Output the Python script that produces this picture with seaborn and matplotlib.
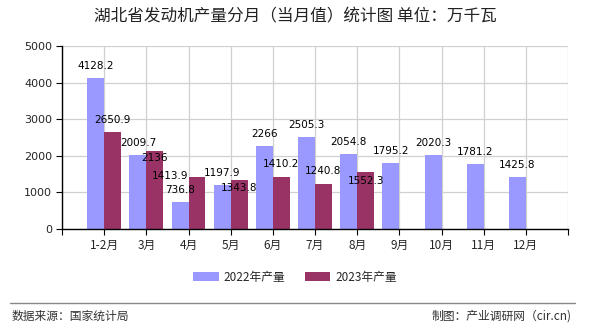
import numpy as np
import pandas as pd
import matplotlib
matplotlib.use("Agg")
import matplotlib.pyplot as plt
import seaborn as sns
from matplotlib.lines import Line2D
from matplotlib.patches import Patch

months = ["1-2月", "3月", "4月", "5月", "6月", "7月", "8月", "9月", "10月", "11月", "12月"]
v2022 = [4128.2, 2009.7, 736.8, 1197.9, 2266, 2505.3, 2054.8, 1795.2, 2020.3, 1781.2, 1425.8]
v2023 = [2650.9, 2136, 1413.9, 1343.8, 1410.2, 1240.8, 1552.3, np.nan, np.nan, np.nan, np.nan]
series = ["2022年产量", "2023年产量"]
colors = ["#9999FF", "#993366"]
yticks = [0, 1000, 2000, 3000, 4000, 5000]
title = "湖北省发动机产量分月（当月值）统计图 单位：万千瓦"
source = "数据来源：国家统计局"
maker = "制图：产业调研网（cir.cn)"

df = pd.DataFrame({
    "month": months * 2,
    "value": v2022 + v2023,
    "series": [series[0]] * len(months) + [series[1]] * len(months),
})

sns.set_theme(style="white")
plt.rcParams["font.family"] = ["Noto Sans CJK SC", "DejaVu Sans"]

fig = plt.figure(figsize=(5.9, 3.3), dpi=100)
W, H = 590, 330
ax = fig.add_axes([62 / W, (H - 229) / H, (568 - 62) / W, (229 - 46) / H])

sns.barplot(data=df, x="month", y="value", hue="series", order=months,
            hue_order=series, palette=colors, width=0.8, saturation=1,
            ax=ax, legend=False, errorbar=None, linewidth=0, edgecolor="none")

ax.set_xlim(-1, len(months))
ax.set_ylim(0, 5000)
ax.set_yticks(yticks)
ax.set_yticklabels([str(t) for t in yticks], fontsize=8, family="DejaVu Sans")
ax.set_xticks(list(range(-1, len(months) + 1)))
ax.set_xticklabels([""] + months + [""], fontsize=8.5)
ax.set_xlabel("")
ax.set_ylabel("")

ax.grid(True, axis="both", color="#d0d0d0", linewidth=0.9)
ax.set_axisbelow(True)
for s in ["top", "right"]:
    ax.spines[s].set_visible(False)
for s in ["left", "bottom"]:
    ax.spines[s].set_color("black")
    ax.spines[s].set_linewidth(1.0)
ax.tick_params(axis="both", which="both", length=4, width=0.8, color="black",
               direction="out", left=True, bottom=True, pad=3)

# label placement (pixel offsets from bar top), mimicking the reference's collision handling
label_shift = {
    0: [(0, 12)] * len(months),
    1: [(0, 12), (0, -7), (-27, 1), (0, -8), (0, 13), (0, 13), (0, -9)] + [(0, 12)] * 4,
}

for si, cont in enumerate(ax.containers):
    for i, rect in enumerate(cont):
        h = rect.get_height()
        if np.isnan(h) or h == 0:
            continue
        dx, dy = label_shift[si][i]
        ax.annotate(f"{h:g}", (rect.get_x() + rect.get_width() / 2, h),
                    xytext=(dx, dy), textcoords="offset pixels",
                    ha="center", va="center", fontsize=7.5, family="DejaVu Sans",
                    color="black")

fig.text(0.5, (H - 17) / H, title, ha="center", va="center", fontsize=12, color="#222222")

handles = [Patch(facecolor=c, edgecolor="none") for c in colors]
fig.legend(handles, series, loc="center", bbox_to_anchor=(0.5, (H - 277) / H),
           ncol=2, frameon=False, fontsize=8.5, handlelength=2.2, handleheight=0.9,
           columnspacing=1.6, handletextpad=0.4)

fig.add_artist(Line2D([10 / W, 575 / W], [(H - 303) / H] * 2, color="#888888", linewidth=1))
fig.text(12 / W, (H - 316) / H, source, ha="left", va="center", fontsize=8.5, color="#333333")
fig.text(572 / W, (H - 316) / H, maker, ha="right", va="center", fontsize=8.5, color="#333333")

fig.savefig("out.png", dpi=100)
